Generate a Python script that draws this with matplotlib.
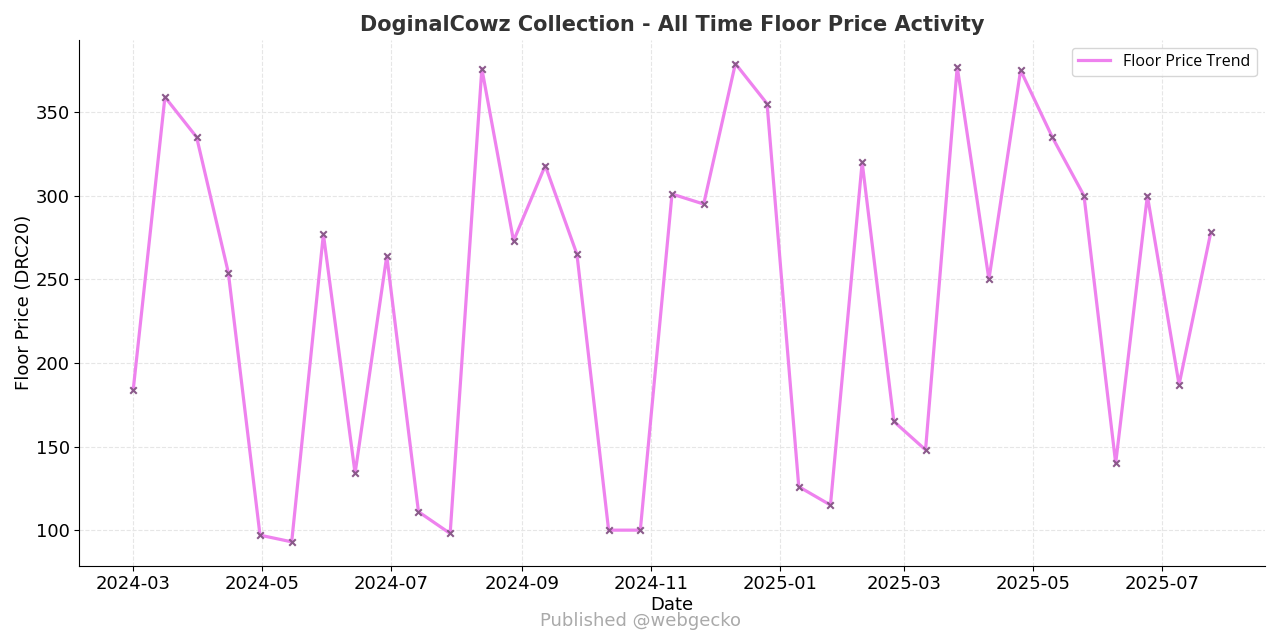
import pandas as pd
import matplotlib.pyplot as plt
import matplotlib.dates as mdates

# floor price every ~15 days
dates = ["2024-03-01", "2024-03-16", "2024-03-31", "2024-04-15", "2024-04-30",
         "2024-05-15", "2024-05-30", "2024-06-14", "2024-06-29", "2024-07-14",
         "2024-07-29", "2024-08-13", "2024-08-28", "2024-09-12", "2024-09-27",
         "2024-10-12", "2024-10-27", "2024-11-11", "2024-11-26", "2024-12-11",
         "2024-12-26", "2025-01-10", "2025-01-25", "2025-02-09", "2025-02-24",
         "2025-03-11", "2025-03-26", "2025-04-10", "2025-04-25", "2025-05-10",
         "2025-05-25", "2025-06-09", "2025-06-24", "2025-07-09", "2025-07-24"]
prices = [184, 359, 335, 254, 97, 93, 277, 134, 264, 111,
          98, 376, 273, 318, 265, 100, 100, 301, 295, 379,
          355, 126, 115, 320, 165, 148, 377, 250, 375, 335,
          300, 140, 300, 187, 278]

x = pd.to_datetime(dates)

fig = plt.figure(figsize=(12.8, 6.4), dpi=100)
ax = fig.add_axes([0.062, 0.116, 0.926, 0.822])

ax.plot(x, prices, color='violet', lw=2.3, label='Floor Price Trend', zorder=2)
ax.scatter(x, prices, marker='x', s=22, color='#8a5a8a', lw=1.5, zorder=3)

ax.set_title('DoginalCowz Collection - All Time Floor Price Activity',
             fontsize=15, fontweight='bold', color='#333333')
ax.set_xlabel('Date', fontsize=13, labelpad=2)
ax.set_ylabel('Floor Price (DRC20)', fontsize=13, labelpad=2)
ax.tick_params(labelsize=13)
ax.xaxis.set_major_locator(mdates.MonthLocator(bymonth=[1, 3, 5, 7, 9, 11]))
ax.xaxis.set_major_formatter(mdates.DateFormatter('%Y-%m'))
ax.set_yticks([100, 150, 200, 250, 300, 350])
ax.grid(True, ls='--', color='#e6e6e6', lw=0.8)
ax.spines['top'].set_visible(False)
ax.spines['right'].set_visible(False)

ax.legend(loc='upper right', prop={'family': 'Open Sans', 'size': 11.5})
fig.text(0.5, 0.022, 'Published @webgecko', ha='center', fontsize=13, color='#aaaaaa')

fig.savefig('out.png')
